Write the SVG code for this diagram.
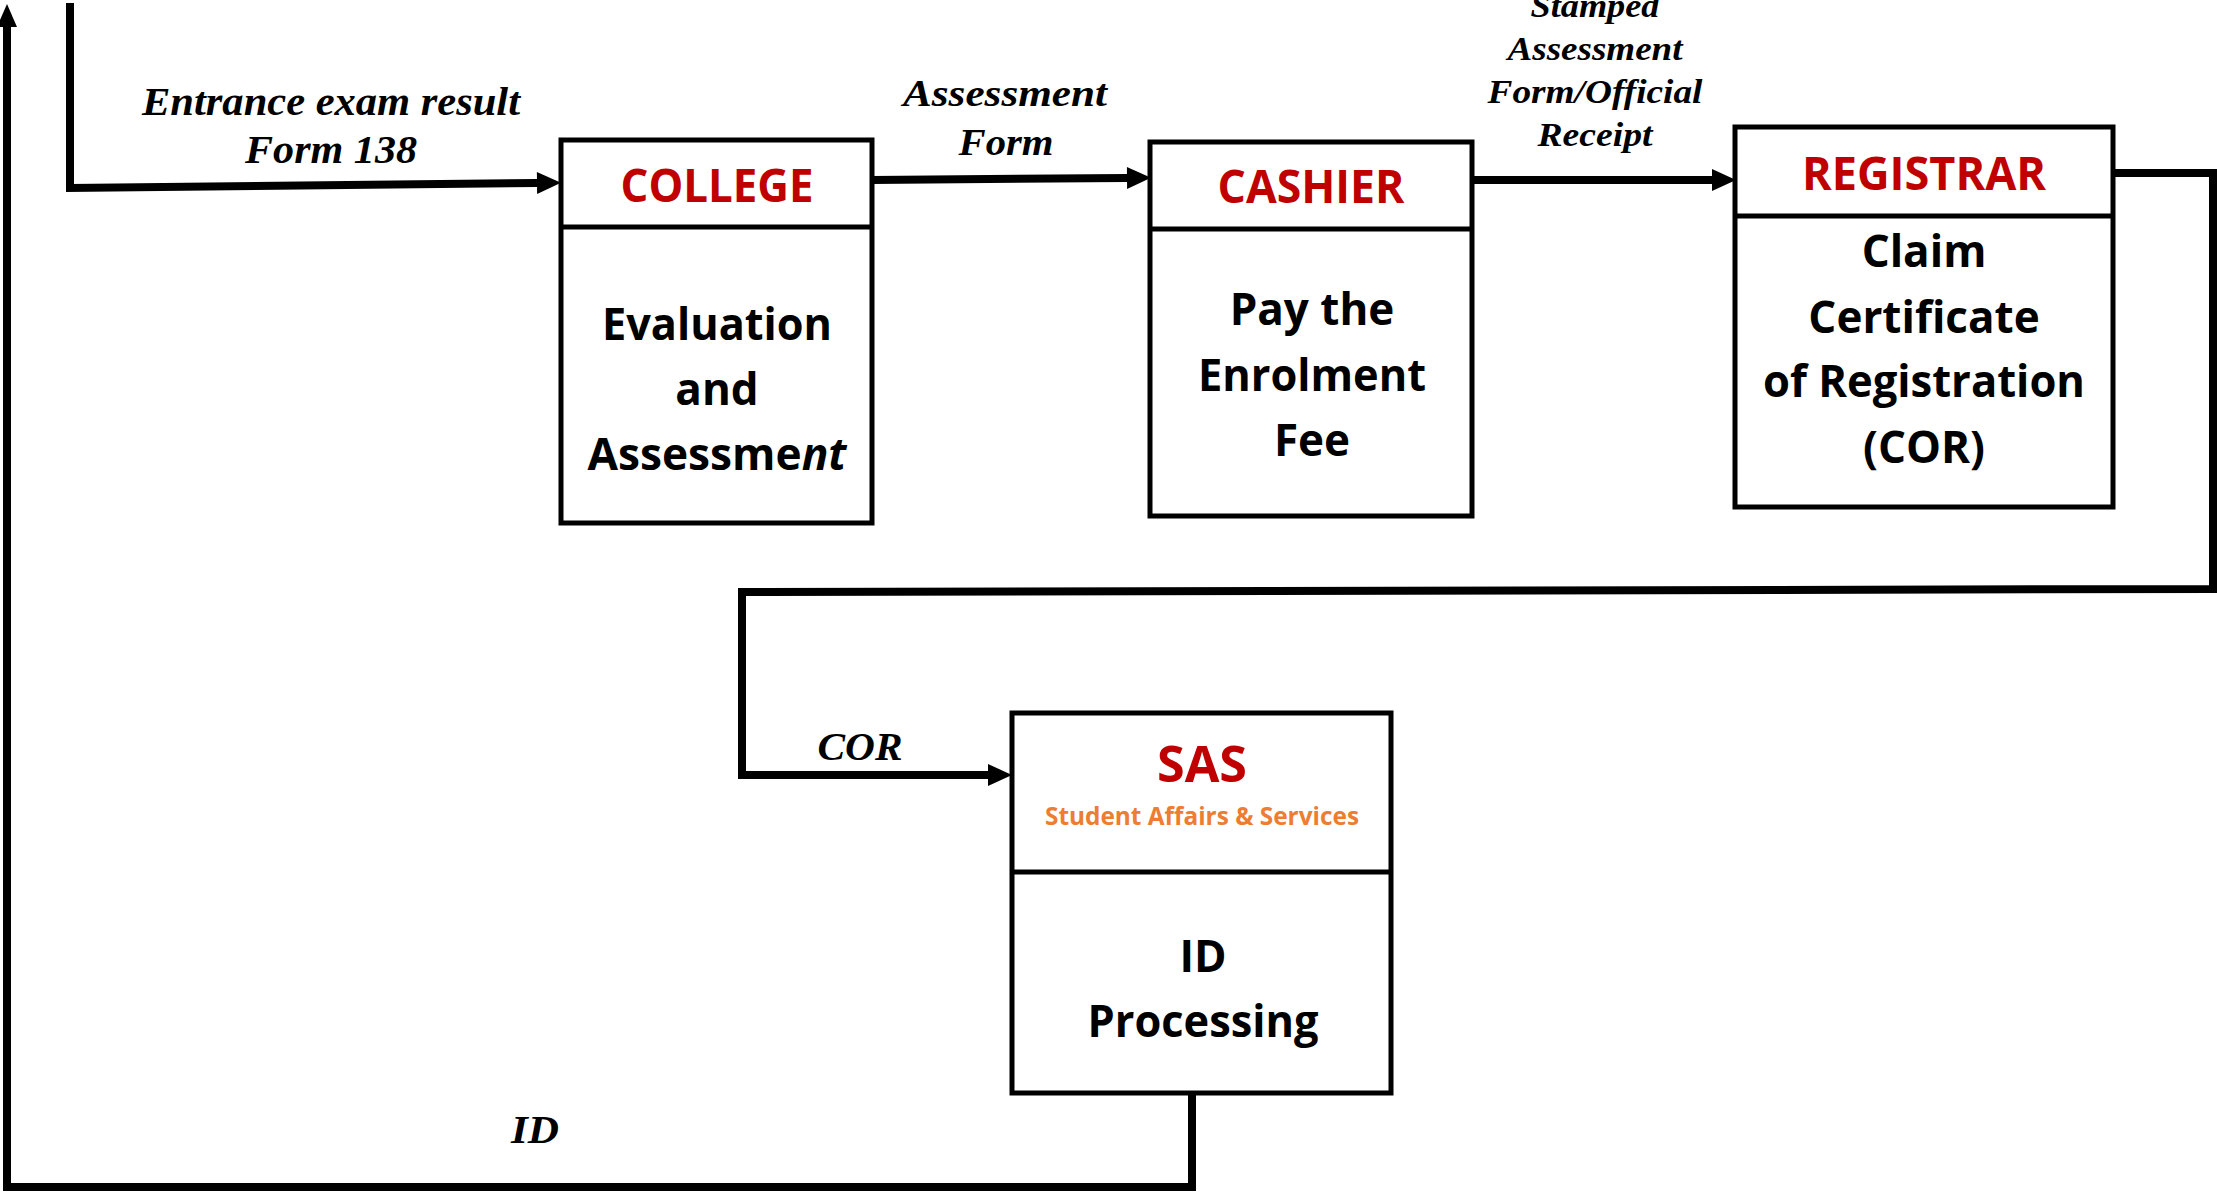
<svg xmlns="http://www.w3.org/2000/svg" width="2217" height="1192" viewBox="0 0 2217 1192">
<style>
.box{fill:#fff;stroke:#000;stroke-width:5}
.div{stroke:#000;stroke-width:5}
.hd{font-family:"Open Sans","Noto Sans",sans-serif;font-weight:700;fill:#C00000;text-anchor:middle}
.bd{font-family:"Open Sans","Noto Sans",sans-serif;font-weight:700;font-size:44px;fill:#000;text-anchor:middle}
.sub{font-family:"Open Sans","Noto Sans",sans-serif;font-weight:700;font-size:25px;fill:#ED7D31;text-anchor:middle}
.lb{font-family:"Liberation Serif","Times New Roman",serif;font-weight:700;font-style:italic;fill:#000;text-anchor:middle}
.cn{fill:none;stroke:#000;stroke-width:8;stroke-linejoin:miter}
</style>
<defs>
<marker id="ah" markerUnits="userSpaceOnUse" markerWidth="26" markerHeight="24" refX="0" refY="11" orient="auto" overflow="visible">
<path d="M0,0 L24,11 L0,22 Z" fill="#000"/>
</marker>
<marker id="ahu" markerUnits="userSpaceOnUse" markerWidth="24" markerHeight="22" refX="0" refY="10" orient="auto" overflow="visible">
<path d="M0,0 L23,10 L0,20 Z" fill="#000"/>
</marker>
</defs>

<g id="connectors">
<path class="cn" d="M70,3 V188 L537,183" marker-end="url(#ah)"/>
<path class="cn" d="M872,180 L1127,178" marker-end="url(#ah)"/>
<path class="cn" d="M1472,180 L1712,180" marker-end="url(#ah)"/>
<path class="cn" d="M2113,173 H2213 V589 L742,592 V775 H988" marker-end="url(#ah)"/>
<path class="cn" d="M1192,1093 V1187 H7 V27" marker-end="url(#ahu)"/>
</g>

<g id="labels">
<text class="lb" font-size="40" x="331" y="115" textLength="378" lengthAdjust="spacingAndGlyphs">Entrance exam result</text>
<text class="lb" font-size="40" x="331" y="163" textLength="172" lengthAdjust="spacingAndGlyphs">Form 138</text>
<text class="lb" font-size="37" x="1005" y="106" textLength="204" lengthAdjust="spacingAndGlyphs">Assessment</text>
<text class="lb" font-size="37" x="1006" y="155" textLength="95" lengthAdjust="spacingAndGlyphs">Form</text>
<text class="lb" font-size="34" x="1595" y="17" textLength="129" lengthAdjust="spacingAndGlyphs">Stamped</text>
<text class="lb" font-size="34" x="1595" y="60" textLength="175" lengthAdjust="spacingAndGlyphs">Assessment</text>
<text class="lb" font-size="34" x="1595" y="103" textLength="215" lengthAdjust="spacingAndGlyphs">Form/Official</text>
<text class="lb" font-size="34" x="1595" y="146" textLength="115" lengthAdjust="spacingAndGlyphs">Receipt</text>
<text class="lb" font-size="40" x="860" y="760" textLength="85" lengthAdjust="spacingAndGlyphs">COR</text>
<text class="lb" font-size="40" x="535" y="1143" textLength="48" lengthAdjust="spacingAndGlyphs">ID</text>
</g>

<g id="college">
<rect class="box" x="561" y="140" width="311" height="383"/>
<line class="div" x1="561" y1="227" x2="872" y2="227"/>
<text class="hd" font-size="47" x="717" y="202" textLength="193" lengthAdjust="spacingAndGlyphs">COLLEGE</text>
<text class="bd" x="717" y="340" textLength="230" lengthAdjust="spacingAndGlyphs">Evaluation</text>
<text class="bd" x="717" y="405">and</text>
<text class="bd" x="717" y="470" textLength="259" lengthAdjust="spacingAndGlyphs">Assessme<tspan font-style="italic">nt</tspan></text>
</g>

<g id="cashier">
<rect class="box" x="1150" y="142" width="322" height="374"/>
<line class="div" x1="1150" y1="229" x2="1472" y2="229"/>
<text class="hd" font-size="46" x="1311" y="203" textLength="187" lengthAdjust="spacingAndGlyphs">CASHIER</text>
<text class="bd" x="1312" y="325">Pay the</text>
<text class="bd" x="1312" y="391" textLength="228" lengthAdjust="spacingAndGlyphs">Enrolment</text>
<text class="bd" x="1312" y="456">Fee</text>
</g>

<g id="registrar">
<rect class="box" x="1735" y="127" width="378" height="380"/>
<line class="div" x1="1735" y1="216" x2="2113" y2="216"/>
<text class="hd" font-size="46" x="1924" y="190" textLength="244" lengthAdjust="spacingAndGlyphs">REGISTRAR</text>
<text class="bd" x="1924" y="267">Claim</text>
<text class="bd" x="1924" y="333">Certificate</text>
<text class="bd" x="1924" y="397" textLength="322" lengthAdjust="spacingAndGlyphs">of Registration</text>
<text class="bd" x="1924" y="463">(COR)</text>
</g>

<g id="sas">
<rect class="box" x="1012" y="713" width="379" height="380"/>
<line class="div" x1="1012" y1="872" x2="1391" y2="872"/>
<text class="hd" font-size="50" x="1202" y="782" textLength="90" lengthAdjust="spacingAndGlyphs">SAS</text>
<text class="sub" x="1202" y="825" textLength="314" lengthAdjust="spacingAndGlyphs">Student Affairs &amp; Services</text>
<text class="bd" x="1203" y="972">ID</text>
<text class="bd" x="1203" y="1037" textLength="231" lengthAdjust="spacingAndGlyphs">Processing</text>
</g>
</svg>
